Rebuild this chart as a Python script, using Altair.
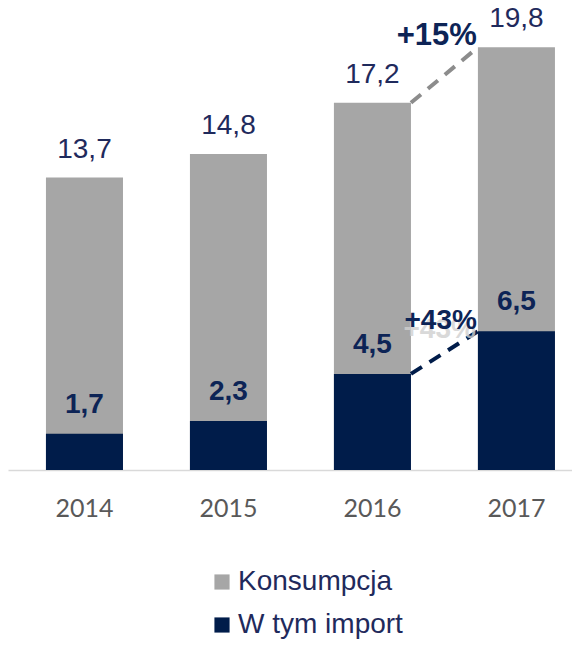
import altair as alt
import pandas as pd

years = ["2014", "2015", "2016", "2017"]
konsumpcja = [13.7, 14.8, 17.2, 19.8]
import_vals = [1.7, 2.3, 4.5, 6.5]
series_names = ["Konsumpcja", "W tym import"]
growth_labels = ["+15%", "+43%"]

GRAY = "#a6a6a6"
NAVY = "#001c4a"
TEXT_NAVY = "#1f2a5c"
BOLD_NAVY = "#0d2456"

def fmt(v):
    return f"{v:.1f}".replace(".", ",")

rows = []
for y, v in zip(years, konsumpcja):
    rows.append({"year": y, "series": series_names[0], "value": v, "label": fmt(v), "o": 0})
for y, v in zip(years, import_vals):
    rows.append({"year": y, "series": series_names[1], "value": v, "label": fmt(v), "o": 1})
df = pd.DataFrame(rows)
tot = df[df.series == series_names[0]]
imp = df[df.series == series_names[1]]

conn = pd.DataFrame([
    {"a": years[2], "b": years[3], "y1": konsumpcja[2], "y2": konsumpcja[3], "s": series_names[0], "t": growth_labels[0]},
    {"a": years[2], "b": years[3], "y1": import_vals[2], "y2": import_vals[3], "s": series_names[1], "t": growth_labels[1]},
])

xscale = alt.Scale(domain=years, paddingInner=0.465, paddingOuter=0.191, align=0.69)
yscale = alt.Scale(domain=[0, 21.64], nice=False)
x = alt.X("year:N", scale=xscale, sort=years,
          axis=alt.Axis(title=None, labelAngle=0, ticks=False, domainColor="#d9d9d9",
                        domainWidth=1.5, labelFont="Lato", labelFontSize=25,
                        labelColor="#595959", labelPadding=26, grid=False))
y = alt.Y("value:Q", scale=yscale, axis=None, stack=None)

bars = alt.Chart(df).mark_bar().encode(
    x=x,
    y=y,
    order=alt.Order("o:Q"),
    color=alt.Color("series:N", scale=alt.Scale(domain=series_names, range=[GRAY, NAVY]),
                    legend=alt.Legend(title=None, orient="none", legendX=200, legendY=560,
                                      direction="vertical", symbolType="square",
                                      symbolSize=230, symbolStrokeWidth=0,
                                      labelFont="Liberation Sans", labelFontSize=28,
                                      labelColor=TEXT_NAVY, rowPadding=15, labelLimit=400,
                                      labelOffset=2, padding=0)),
)

tot_text = alt.Chart(tot).mark_text(font="Liberation Sans", fontSize=28, color=TEXT_NAVY,
                                    baseline="alphabetic", dy=-20).encode(
    x=alt.X("year:N", scale=xscale, sort=years), y=alt.Y("value:Q", scale=yscale), text="label:N")

imp_text = alt.Chart(imp).mark_text(font="Liberation Sans", fontSize=28, fontWeight="bold",
                                    color=BOLD_NAVY, baseline="alphabetic", dy=-21).encode(
    x=alt.X("year:N", scale=xscale, sort=years), y=alt.Y("value:Q", scale=yscale), text="label:N")

rules = alt.Chart(conn).mark_rule(strokeWidth=4, strokeDash=[13, 9]).encode(
    x=alt.X("a:N", scale=xscale, sort=years, bandPosition=1),
    x2=alt.X2("b:N", bandPosition=0),
    y=alt.Y("y1:Q", scale=yscale),
    y2="y2:Q",
    color=alt.Color("s:N", scale=alt.Scale(domain=series_names, range=["#8c8c8c", NAVY]), legend=None),
)

ghost = alt.Chart(conn.iloc[[1]]).mark_text(font="Liberation Sans", fontSize=28, fontWeight="bold",
                                            color="#d0d0d0", opacity=0.8, align="right",
                                            baseline="alphabetic", dx=-2, dy=7).encode(
    x=alt.X("b:N", scale=xscale, sort=years, bandPosition=0),
    y=alt.Y("y2:Q", scale=yscale), text="t:N")

growth = alt.Chart(conn).mark_text(font="Liberation Sans", fontWeight="bold",
                                   color=BOLD_NAVY, align="right", baseline="alphabetic",
                                   dx=-1, dy=-2).encode(
    x=alt.X("b:N", scale=xscale, sort=years, bandPosition=0),
    y=alt.Y("y2:Q", scale=yscale), text="t:N",
    size=alt.Size("t:N", scale=alt.Scale(domain=growth_labels, range=[31, 28]), legend=None))

chart = alt.layer(bars, tot_text, imp_text, rules, ghost, growth).resolve_scale(
    color="independent", size="independent").properties(
    width=564, height=462,
    autosize=alt.AutoSizeParams(type="none"),
    padding={"left": 0, "top": 0, "right": 0, "bottom": 171},
).configure_view(stroke=None)

chart.save("out.html", embed_options={"renderer": "svg", "actions": False})
